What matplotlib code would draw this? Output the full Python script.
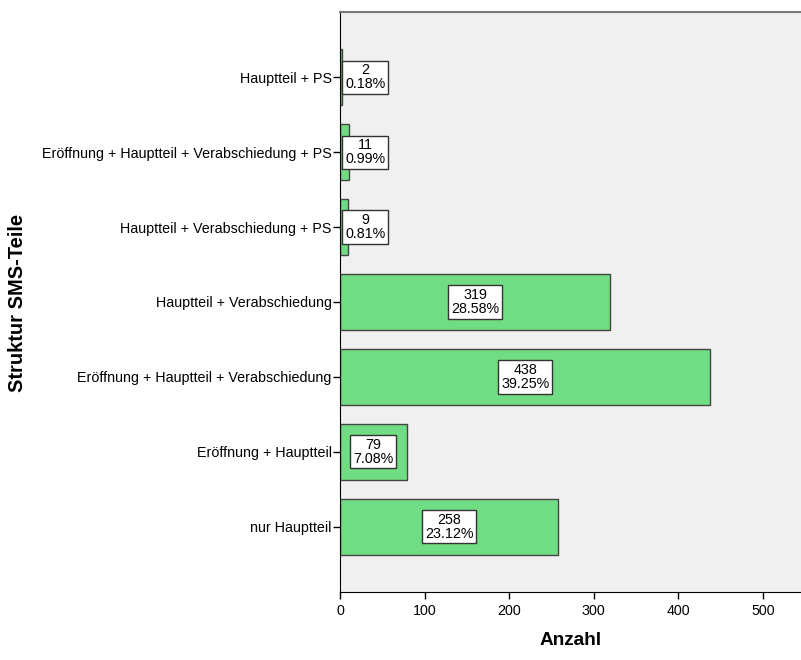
import matplotlib.pyplot as plt

plt.rcParams['font.family'] = ['Liberation Sans', 'DejaVu Sans']

# Data (bottom to top)
categories = ['nur Hauptteil', 'Eröffnung + Hauptteil',
              'Eröffnung + Hauptteil + Verabschiedung', 'Hauptteil + Verabschiedung',
              'Hauptteil + Verabschiedung + PS',
              'Eröffnung + Hauptteil + Verabschiedung + PS', 'Hauptteil + PS']
counts = [258, 79, 438, 319, 9, 11, 2]
percents = ['23.12%', '7.08%', '39.25%', '28.58%', '0.81%', '0.99%', '0.18%']

fig = plt.figure(figsize=(8.01, 6.60), dpi=100)
ax = fig.add_axes([340 / 801, 1 - 592 / 660, 1 - 340 / 801, 580 / 660])
ax.set_facecolor('#f0f0f0')

y = range(len(categories))
ax.barh(y, counts, height=0.75, color='#70dc84', edgecolor='#444444', linewidth=1.0, zorder=2)

ax.set_xlim(0, 545)
ax.set_ylim(-0.87, 6.87)

# value labels: centred on bar, pushed right when the bar is too short
min_center = 30
for i, (c, p) in enumerate(zip(counts, percents)):
    xc = max(c / 2, min_center)
    ax.text(xc, i, f'{c}\n{p}', ha='center', va='center', fontsize=10.3,
            linespacing=0.95, zorder=3,
            bbox=dict(boxstyle='square,pad=0.2', facecolor='white',
                      edgecolor='#333333', linewidth=1.0))

ax.set_yticks(list(y))
ax.set_yticklabels(categories, fontsize=10.3)
ax.set_xticks([0, 100, 200, 300, 400, 500])
ax.tick_params(axis='both', direction='out', length=5, width=1, labelsize=10.3, colors='black')
ax.tick_params(axis='y', pad=1)

ax.spines['right'].set_visible(False)
ax.spines['top'].set_color('#777777')
ax.spines['top'].set_linewidth(1.5)
ax.spines['left'].set_color('black')
ax.spines['bottom'].set_color('black')

ax.set_xlabel('Anzahl', fontsize=13.7, fontweight='bold', labelpad=10)
fig.text(18 / 801, 1 - 303 / 660, 'Struktur SMS-Teile', rotation=90, fontsize=14.5,
         fontweight='bold', ha='center', va='center')

fig.savefig('out.png', dpi=100)
